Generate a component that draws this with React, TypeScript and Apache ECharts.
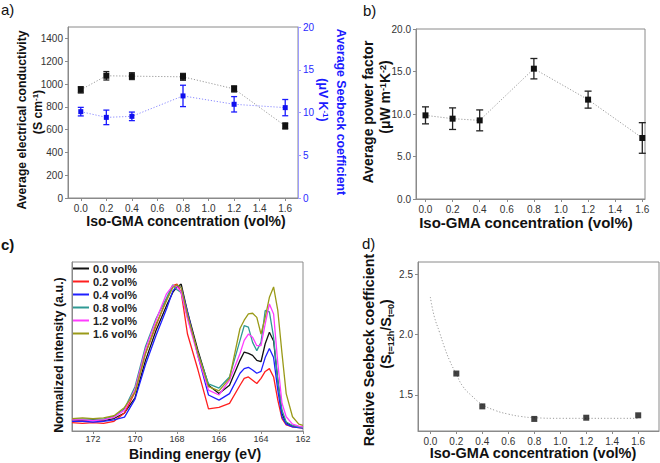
import React, { useEffect, useRef } from "react";
import * as echarts from "echarts";

const FONT = "'Liberation Sans', Arial, Helvetica, sans-serif";

// Panel a / b shared concentrations (vol%)
const conc = [0, 0.2, 0.4, 0.8, 1.2, 1.6];
const concTicks = [0, 0.2, 0.4, 0.6, 0.8, 1.0, 1.2, 1.4, 1.6];
// Panel a
const conductivity = [949, 1072, 1069, 1063, 957, 632];
const conductivityErr = [28, 37, 30, 30, 27, 27];
const conductivityTicks = [0, 200, 400, 600, 800, 1000, 1200, 1400];
const seebeck = [10.1, 9.43, 9.55, 11.94, 10.96, 10.57];
const seebeckErr = [0.5, 0.85, 0.5, 1.25, 0.9, 0.95];
const seebeckTicks = [0, 5, 10, 15, 20];
// Panel b
const powerFactor = [9.84, 9.45, 9.25, 15.33, 11.69, 7.18];
const powerFactorErr = [1.0, 1.27, 1.23, 1.2, 1.0, 1.8];
const powerTicks = [0, 5, 10, 15, 20];
// Panel c (XPS S2p)
const energy = [173, 172.5, 172, 171.5, 171, 170.5, 170, 169.5, 169, 168.5, 168.2, 168, 167.8, 167.5, 167, 166.5, 166, 165.5, 165, 164.8, 164.6, 164.4, 164.2, 164, 163.8, 163.6, 163.4, 163.2, 163, 162.8, 162.5, 162.2, 162];
const energyTicks = [162, 164, 166, 168, 170, 172];
const xps00 = [0.02, 0.015, 0.02, 0.015, 0.03, 0.07, 0.18, 0.45, 0.665, 0.845, 0.94, 0.98, 1.0, 0.8, 0.52, 0.27, 0.21, 0.27, 0.45, 0.51, 0.5, 0.486, 0.45, 0.44, 0.57, 0.653, 0.59, 0.306, 0.067, 0.0, -0.025, -0.03, -0.03];
const xps02 = [0.0, -0.005, 0.0, -0.005, 0.01, 0.07, 0.22, 0.5, 0.7, 0.89, 0.99, 1.0, 0.94, 0.64, 0.38, 0.1, 0.11, 0.139, 0.27, 0.32, 0.33, 0.307, 0.283, 0.32, 0.37, 0.39, 0.33, 0.163, 0.03, -0.015, -0.03, -0.035, -0.04];
const xps04 = [0.01, 0.01, 0.005, 0.01, 0.02, 0.04, 0.17, 0.42, 0.63, 0.82, 0.95, 0.99, 0.976, 0.8, 0.48, 0.2, 0.163, 0.21, 0.357, 0.39, 0.4, 0.38, 0.357, 0.37, 0.47, 0.536, 0.47, 0.235, 0.043, -0.01, -0.03, -0.035, -0.04];
const xps08 = [0.03, 0.025, 0.03, 0.025, 0.045, 0.1, 0.26, 0.55, 0.75, 0.9, 0.995, 0.96, 0.94, 0.76, 0.5, 0.28, 0.25, 0.33, 0.594, 0.7, 0.69, 0.58, 0.52, 0.58, 0.81, 0.8, 0.617, 0.306, 0.09, 0.005, -0.02, -0.03, -0.035];
const xps12 = [0.02, 0.02, 0.015, 0.02, 0.04, 0.09, 0.24, 0.53, 0.74, 0.93, 0.99, 0.98, 0.94, 0.75, 0.48, 0.235, 0.2, 0.307, 0.5, 0.594, 0.64, 0.617, 0.556, 0.556, 0.713, 0.857, 0.785, 0.43, 0.14, 0.043, -0.01, -0.025, -0.03];
const xps16 = [0.03, 0.035, 0.03, 0.035, 0.05, 0.11, 0.22, 0.5, 0.71, 0.88, 0.976, 0.995, 0.976, 0.78, 0.5, 0.26, 0.23, 0.32, 0.68, 0.74, 0.785, 0.79, 0.76, 0.64, 0.76, 0.905, 0.98, 0.81, 0.5, 0.21, 0.043, -0.01, -0.02];
const xpsNames = ["0.0 vol%", "0.2 vol%", "0.4 vol%", "0.8 vol%", "1.2 vol%", "1.6 vol%"];
const xpsColors = ["#111111", "#ff1f1f", "#1f1fff", "#2f9a94", "#ff3cff", "#9a9a18"];
// Panel d
const relConc = [0.2, 0.4, 0.8, 1.2, 1.6];
const relSeebeck = [1.676, 1.404, 1.3, 1.31, 1.33];
const fitConc = [0, 0.03, 0.07, 0.11, 0.15, 0.2, 0.25, 0.32, 0.4, 0.5, 0.6, 0.7, 0.8, 1.0, 1.2, 1.4, 1.6];
const fitRel = [2.31, 2.15, 2.02, 1.89, 1.78, 1.67, 1.57, 1.49, 1.42, 1.37, 1.34, 1.32, 1.31, 1.305, 1.305, 1.305, 1.305];
const relTicks = [1.5, 2.0, 2.5];

const zip = (a: number[], b: number[]) => a.map((v, i) => [v, b[i]]);
const zip3 = (a: number[], b: number[], c: number[]) => a.map((v, i) => [v, b[i], c[i]]);

const GRAY = "#8a8a8a";

function errRender(color: string, capW: number) {
  return (params: any, api: any) => {
    const x = api.value(0), y = api.value(1), e = api.value(2);
    const p1 = api.coord([x, y + e]);
    const p2 = api.coord([x, y - e]);
    const style = { stroke: color, lineWidth: 1.3 };
    return {
      type: "group",
      children: [
        { type: "line", shape: { x1: p1[0], y1: p1[1], x2: p2[0], y2: p2[1] }, style },
        { type: "line", shape: { x1: p1[0] - capW / 2, y1: p1[1], x2: p1[0] + capW / 2, y2: p1[1] }, style },
        { type: "line", shape: { x1: p2[0] - capW / 2, y1: p2[1], x2: p2[0] + capW / 2, y2: p2[1] }, style },
      ],
    };
  };
}

function valueAxis(extra: any, ticks: number[] | null, fmt?: (v: number) => string, labelColor = "#333", lineColor = GRAY, fontSize = 10, margin = 5) {
  return {
    type: "value",
    splitLine: { show: false },
    axisLine: { show: true, onZero: false, lineStyle: { color: lineColor, width: 1 } },
    axisTick: ticks
      ? { show: true, length: 3, lineStyle: { color: lineColor }, customValues: ticks }
      : { show: false },
    axisLabel: ticks
      ? {
          show: true,
          customValues: ticks,
          color: labelColor,
          fontSize,
          fontFamily: FONT,
          margin,
          formatter: fmt ? (v: number) => fmt(v) : undefined,
        }
      : { show: false },
    ...extra,
  };
}

function vtext(x: number, y: number, text: string, size: number, rot: number, color = "#111", rich?: any) {
  return {
    type: "text",
    x,
    y,
    rotation: rot,
    style: {
      text,
      fontSize: size,
      fontWeight: "bold",
      fontFamily: FONT,
      fill: color,
      align: "center",
      verticalAlign: "middle",
      rich,
    },
  };
}

function supRich(size: number, color = "#111") {
  return {
    sup: { fontSize: Math.round(size * 0.62), fontWeight: "bold", fontFamily: FONT, fill: color, color, verticalAlign: "top", lineHeight: size },
    sub: { fontSize: Math.round(size * 0.62), fontWeight: "bold", fontFamily: FONT, fill: color, color, verticalAlign: "bottom", lineHeight: size * 1.3 },
  };
}

export default function App() {
  const ref = useRef<HTMLDivElement>(null);
  useEffect(() => {
    document.body.style.margin = "0";
    if (!ref.current) return;
    const chart = echarts.init(ref.current, null, { renderer: "svg" });
    const f1 = (v: number) => v.toFixed(1);
    const f0 = (v: number) => String(v);
    const blueLabel = "#2a2aff";
    const option: any = {
      animation: false,
      textStyle: { fontFamily: FONT },
      grid: [
        { left: 68, top: 27, width: 230, height: 171, show: true, borderColor: GRAY, borderWidth: 1 },
        { left: 416, top: 29, width: 229, height: 170, show: true, borderColor: GRAY, borderWidth: 1 },
        { left: 72, top: 262, width: 231, height: 169, show: true, borderColor: GRAY, borderWidth: 1 },
        { left: 418, top: 262, width: 241, height: 169, show: true, borderColor: GRAY, borderWidth: 1 },
      ],
      xAxis: [
        valueAxis({ gridIndex: 0, min: -0.1, max: 1.7 }, concTicks, f1),
        valueAxis({ gridIndex: 1, min: -0.07, max: 1.62 }, concTicks, f1),
        valueAxis({ gridIndex: 2, min: 162, max: 173, inverse: true }, energyTicks, f0, "#333", GRAY, 9, 3),
        valueAxis({ gridIndex: 3, min: -0.095, max: 1.76 }, concTicks, f1),
      ],
      yAxis: [
        valueAxis({ gridIndex: 0, min: 0, max: 1500 }, conductivityTicks, f0),
        valueAxis({ gridIndex: 0, min: 0, max: 20, position: "right" }, seebeckTicks, f0, blueLabel, "#9c9cff"),
        valueAxis({ gridIndex: 1, min: 0, max: 20 }, powerTicks, f1),
        valueAxis({ gridIndex: 2, min: -0.06, max: 1.16 }, null),
        valueAxis({ gridIndex: 3, min: 1.2, max: 2.6 }, relTicks, f1),
      ],
      legend: {
        orient: "vertical",
        left: 73,
        top: 263,
        padding: 0,
        itemGap: 2,
        itemWidth: 16,
        itemHeight: 2,
        icon: "rect",
        selectedMode: false,
        data: xpsNames,
        textStyle: { fontSize: 11, fontWeight: "bold", fontFamily: FONT, color: "#222", padding: [0, 0, 0, -1] },
      },
      series: [
        // Panel a
        {
          type: "custom", name: "condErr", xAxisIndex: 0, yAxisIndex: 0, z: 2, clip: false,
          data: zip3(conc, conductivity, conductivityErr), encode: { x: 0, y: 1 },
          renderItem: errRender("#222", 6),
        },
        {
          type: "line", name: "cond", xAxisIndex: 0, yAxisIndex: 0, z: 3,
          data: zip(conc, conductivity), symbol: "rect", symbolSize: 6,
          itemStyle: { color: "#111" },
          lineStyle: { color: "#9a9a9a", width: 1, type: [1.2, 1.8] },
        },
        {
          type: "custom", name: "seebErr", xAxisIndex: 0, yAxisIndex: 1, z: 2, clip: false,
          data: zip3(conc, seebeck, seebeckErr), encode: { x: 0, y: 1 },
          renderItem: errRender("#1a1aff", 6),
        },
        {
          type: "line", name: "seeb", xAxisIndex: 0, yAxisIndex: 1, z: 3,
          data: zip(conc, seebeck), symbol: "rect", symbolSize: 5,
          itemStyle: { color: "#1010ee" },
          lineStyle: { color: "#8a8aff", width: 1, type: [1.2, 1.8] },
        },
        // Panel b
        {
          type: "custom", name: "pfErr", xAxisIndex: 1, yAxisIndex: 2, z: 2, clip: false,
          data: zip3(conc, powerFactor, powerFactorErr), encode: { x: 0, y: 1 },
          renderItem: errRender("#222", 7),
        },
        {
          type: "line", name: "pf", xAxisIndex: 1, yAxisIndex: 2, z: 3,
          data: zip(conc, powerFactor), symbol: "rect", symbolSize: 6,
          itemStyle: { color: "#111" },
          lineStyle: { color: "#9a9a9a", width: 1, type: [1.2, 1.8] },
        },
        // Panel c
        ...[xps00, xps02, xps04, xps08, xps12, xps16].map((arr, i) => ({
          type: "line", name: xpsNames[i], xAxisIndex: 2, yAxisIndex: 3,
          data: zip(energy, arr), showSymbol: false, symbol: "none",
          itemStyle: { color: xpsColors[i] },
          lineStyle: { color: xpsColors[i], width: 1.3 },
        })),
        // Panel d
        {
          type: "line", name: "fit", xAxisIndex: 3, yAxisIndex: 4, z: 2,
          data: zip(fitConc, fitRel), showSymbol: false, symbol: "none", smooth: true,
          lineStyle: { color: "#9a9a9a", width: 1, type: [1.2, 2] },
        },
        {
          type: "scatter", name: "rel", xAxisIndex: 3, yAxisIndex: 4, z: 3,
          data: zip(relConc, relSeebeck), symbol: "rect", symbolSize: 6,
          itemStyle: { color: "#111" },
        },
      ],
      graphic: [
        { type: "text", x: 1, y: 9, style: { text: "a)", fontSize: 15, fontFamily: FONT, fill: "#111", verticalAlign: "middle" } },
        { type: "text", x: 363, y: 10, style: { text: "b)", fontSize: 15, fontFamily: FONT, fill: "#111", verticalAlign: "middle" } },
        { type: "text", x: 1, y: 244, style: { text: "c)", fontSize: 15, fontWeight: "bold", fontFamily: FONT, fill: "#111", verticalAlign: "middle" } },
        { type: "text", x: 362, y: 243, style: { text: "d)", fontSize: 15, fontFamily: FONT, fill: "#111", verticalAlign: "middle" } },
        // panel a
        vtext(22, 120, "Average electrical conductivity", 12.2, Math.PI / 2),
        vtext(38, 112, "(S cm{sup|-1})", 12.2, Math.PI / 2, "#111", supRich(12.2)),
        vtext(341, 112, "Average Seebeck coefficient", 12.3, -Math.PI / 2, "#1a1aff"),
        vtext(323, 100, "(μV K{sup|-1})", 12.3, -Math.PI / 2, "#1a1aff", supRich(12.3, "#1a1aff")),
        vtext(186, 221, "Iso-GMA concentration (vol%)", 14, 0),
        // panel b
        vtext(368, 112, "Average power factor", 14, Math.PI / 2),
        vtext(385, 97, "(μW m{sup|-1}K{sup|-2})", 14, Math.PI / 2, "#111", supRich(14)),
        vtext(526, 222, "Iso-GMA concentration (vol%)", 15, 0),
        // panel c
        vtext(59, 355, "Normalized intensity (a.u.)", 12.5, Math.PI / 2),
        vtext(195, 454, "Binding energy (eV)", 14, 0),
        // panel d
        vtext(369, 350, "Relative Seebeck coefficient", 14.3, Math.PI / 2),
        vtext(386, 334, "(S{sub|t=12h}/S{sub|t=0})", 14.3, Math.PI / 2, "#111", supRich(14.3)),
        vtext(533, 453, "Iso-GMA concentration (vol%)", 14.5, 0),
      ],
    };
    chart.setOption(option);
    return () => chart.dispose();
  }, []);
  return <div ref={ref} style={{ width: 660, height: 463 }} />;
}
